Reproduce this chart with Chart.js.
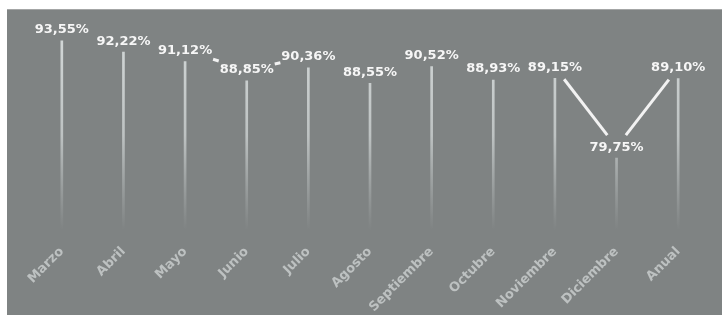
<!DOCTYPE html>
<html>
<head>
<meta charset="utf-8">
<script src="https://cdn.jsdelivr.net/npm/chart.js@4/dist/chart.umd.min.js"></script>
<style>
  body { margin: 0; background: #ffffff; }
  #wrap { width: 722px; height: 315px; }
</style>
</head>
<body>
<div id="wrap"><canvas id="myChart" width="722" height="315"></canvas></div>
<script>
// datos del grafico
var meses = ["Marzo", "Abril", "Mayo", "Junio", "Julio", "Agosto", "Septiembre", "Octubre", "Noviembre", "Diciembre", "Anual"];
var porcentajes = [93.55, 92.22, 91.12, 88.85, 90.36, 88.55, 90.52, 88.93, 89.15, 79.75, 89.10];
var etiquetas = ["93,55%", "92,22%", "91,12%", "88,85%", "90,36%", "88,55%", "90,52%", "88,93%", "89,15%", "79,75%", "89,10%"];
// pares de etiquetas unidas por una raya (vecino -> valle)
var uniones = [[2, 3], [4, 3], [8, 9], [10, 9]];

var fondo = "#7f8383";

///////////////// fondo gris //////////////////////////////////////////////
var panelPlugin = {
    id: "panel",
    beforeDraw: function(chart) {
        var ctx = chart.ctx;
        ctx.save();
        ctx.fillStyle = "#a4a6a6";
        ctx.fillRect(7, 9, chart.width - 7, 1);
        ctx.fillStyle = fondo;
        ctx.fillRect(7, 10, chart.width - 7, chart.height - 10);
        ctx.restore();
    }
};

///////////////// etiquetas de valor y rayas //////////////////////////////
var etiquetasPlugin = {
    id: "etiquetas",
    afterDatasetsDraw: function(chart) {
        var ctx = chart.ctx;
        var barras = chart.getDatasetMeta(0).data;
        var pos = [];
        for (var i = 0; i < barras.length; i++) {
            pos.push({ x: barras[i].x, y: barras[i].y - 11 });
        }

        // rayas entre etiquetas
        ctx.save();
        ctx.strokeStyle = "#f2f2f2";
        ctx.lineWidth = 3;
        ctx.lineCap = "butt";
        for (var j = 0; j < uniones.length; j++) {
            var a = pos[uniones[j][0]];
            var b = pos[uniones[j][1]];
            var dx = b.x - a.x;
            var dy = b.y - a.y;
            // recortar la raya fuera de la caja de cada etiqueta
            var t = Math.min(28 / Math.abs(dx), 12 / Math.abs(dy));
            if (t < 0.5) {
                ctx.beginPath();
                ctx.moveTo(a.x + dx * t, a.y + dy * t);
                ctx.lineTo(b.x - dx * t, b.y - dy * t);
                ctx.stroke();
            }
        }

        ctx.font = "bold 13px 'DejaVu Sans'";
        ctx.fillStyle = "#f6f6f6";
        ctx.textAlign = "center";
        ctx.textBaseline = "middle";
        for (var k = 0; k < pos.length; k++) {
            ctx.fillText(etiquetas[k], pos[k].x, pos[k].y);
        }
        ctx.restore();
    }
};

function colorBarra(context) {
    var area = context.chart.chartArea;
    if (!area) {
        return "#cfd3d3";
    }
    var g = context.chart.ctx.createLinearGradient(0, area.top, 0, area.bottom);
    g.addColorStop(0, "rgba(214,219,219,1)");
    g.addColorStop(0.55, "rgba(200,205,205,0.85)");
    g.addColorStop(1, "rgba(190,195,195,0)");
    return g;
}

var ctx = document.getElementById("myChart");
var myChart = new Chart(ctx, {
    type: "bar",
    data: {
        labels: meses,
        datasets: [{
            label: "Porcentaje",
            data: porcentajes,
            backgroundColor: colorBarra,
            borderWidth: 0,
            barThickness: 2
        }]
    },
    options: {
        responsive: false,
        animation: false,
        layout: {
            padding: { left: 31, right: 13, top: 20, bottom: 0 }
        },
        plugins: {
            legend: { display: false },
            tooltip: { enabled: false }
        },
        scales: {
            x: {
                grid: { display: false },
                border: { display: false },
                afterFit: function(scale) {
                    scale.height = 85;
                },
                ticks: {
                    minRotation: 45,
                    maxRotation: 45,
                    padding: 6,
                    color: "#bdc1c1",
                    font: { family: "'DejaVu Sans'", size: 13, weight: "bold" }
                }
            },
            y: {
                display: false,
                min: 71.3,
                max: 96
            }
        }
    },
    plugins: [panelPlugin, etiquetasPlugin]
});
</script>
</body>
</html>
